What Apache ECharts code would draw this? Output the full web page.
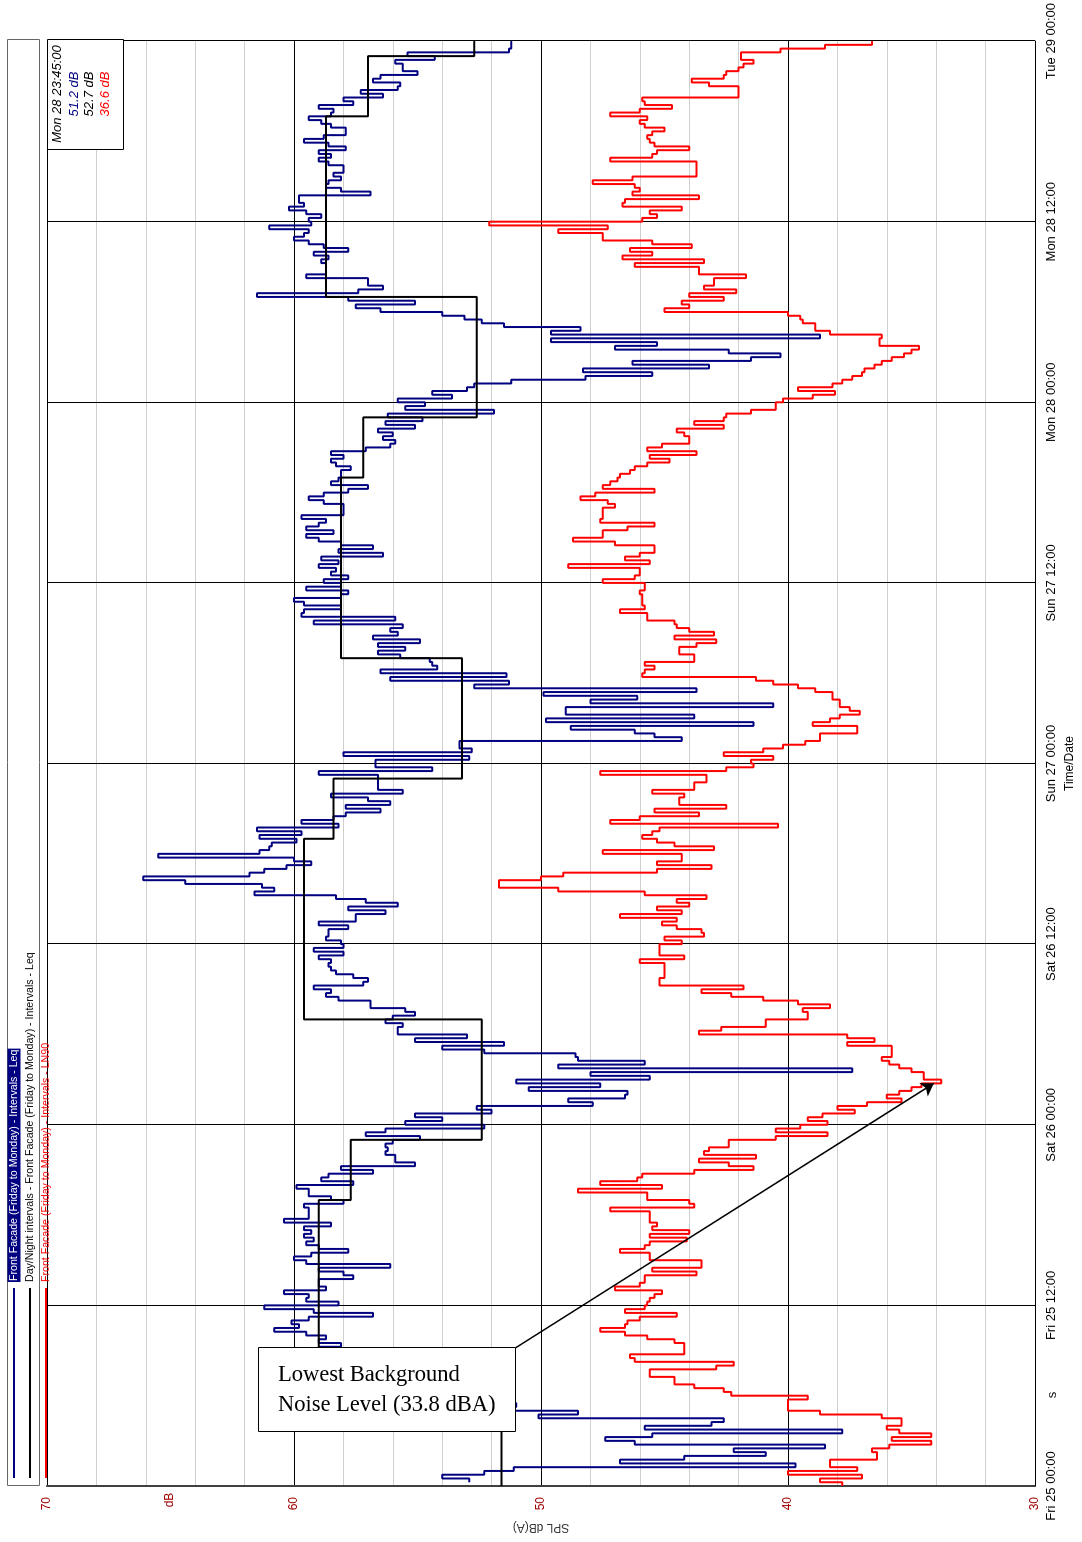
<!DOCTYPE html>
<html><head><meta charset="utf-8">
<script src="https://cdn.jsdelivr.net/npm/echarts@6/dist/echarts.min.js"></script>
<style>
html,body{margin:0;padding:0;width:1082px;height:1542px;overflow:hidden;background:#fff;}
#main{position:absolute;left:0;top:1542px;width:1542px;height:1082px;transform-origin:0 0;transform:rotate(-90deg);}
</style></head><body><div id="main"></div>
<script>
// Time axis tick labels (every 12 hours from Fri 25 00:00)
const timeTickLabels = ['Fri 25 00:00','Fri 25 12:00','Sat 26 00:00','Sat 26 12:00','Sun 27 00:00','Sun 27 12:00','Mon 28 00:00','Mon 28 12:00','Tue 29 00:00'];
const dbTickLabels = [30, 40, 50, 60, 70];
const intervalHours = 0.25; // 15 minute intervals

// Front Facade (Friday to Monday) - Intervals - Leq  (dB, 15-min intervals from Fri 25 00:00)
const leq = [
 null,52.9,54.0,52.3,51.1,39.7,46.8,44.2,40.9,42.2,38.5,46.2,
 47.4,45.5,37.8,45.8,43.1,42.6,50.1,48.5,51.1,51.0,53.8,52.2,
 54.5,53.0,55.2,56.5,58.3,59.2,58.6,60.1,59.4,58.8,59.9,59.3,
 59.0,58.1,59.0,58.7,59.5,60.8,59.8,60.1,59.4,56.8,59.2,61.2,
 58.2,59.5,59.4,60.4,58.7,59.0,59.0,57.6,58.0,59.0,56.1,59.5,
 60.0,59.3,57.8,59.0,59.5,59.2,59.6,59.3,59.6,58.5,60.4,59.4,
 59.4,59.4,59.6,58.0,58.5,59.4,59.4,59.9,57.6,58.9,58.6,56.8,
 58.1,55.1,55.9,55.9,56.3,56.2,56.3,56.0,54.9,57.1,56.3,52.3,
 55.5,54.0,55.1,52.0,52.6,47.9,48.9,46.6,46.5,50.5,47.6,51.0,
 45.6,48.0,37.4,49.3,45.8,48.5,48.6,52.3,54.0,51.5,55.1,53.0,
 55.8,55.8,55.6,56.3,56.0,55.1,55.5,56.9,56.9,58.2,58.7,58.5,
 59.2,57.2,57.0,57.6,58.3,58.5,58.6,58.5,59.0,58.0,59.2,58.0,
 58.1,58.7,58.6,58.6,57.8,59.0,57.5,57.5,56.3,57.8,55.8,57.1,
 58.3,61.6,60.8,61.3,64.4,66.1,61.8,61.2,60.3,59.3,60.0,65.5,
 61.4,61.0,60.9,59.9,61.4,59.7,61.5,58.2,59.7,58.4,57.9,56.5,
 57.9,56.1,57.0,58.5,55.6,56.6,56.6,56.6,56.6,59.0,54.4,56.7,
 56.7,52.9,58.0,52.8,53.3,53.3,44.3,45.4,46.2,48.8,41.4,49.8,
 43.8,49.0,49.0,40.6,48.0,46.1,49.9,43.7,52.7,51.3,56.1,51.4,
 56.5,54.2,54.4,54.5,55.7,56.6,55.5,56.6,54.9,56.8,55.8,56.1,
 55.6,59.2,55.9,59.7,59.6,58.1,59.6,60.0,58.1,57.8,59.5,58.1,
 58.8,57.8,58.5,58.3,59.0,58.2,58.9,56.4,58.2,56.8,58.1,59.0,
 59.5,58.4,59.5,59.0,58.7,59.7,58.0,58.0,58.0,58.8,59.4,58.8,
 57.8,57.0,58.5,58.2,58.1,58.1,57.7,58.3,58.5,58.0,58.5,57.1,
 56.1,55.9,56.4,56.0,56.6,55.1,56.3,54.8,56.2,51.9,55.5,54.7,
 55.8,53.6,54.4,53.0,52.7,51.2,48.2,45.5,48.3,43.2,46.3,41.5,
 40.3,42.4,47.0,45.3,49.6,38.7,49.6,48.4,51.5,52.4,53.1,54.0,
 56.5,57.5,55.1,57.8,61.5,57.4,56.4,57.0,57.0,59.5,58.7,58.7,
 58.7,58.9,58.6,59.2,57.8,58.8,59.4,60.0,59.6,59.4,61.0,59.3,
 59.4,58.9,59.5,60.2,59.6,59.8,59.8,56.9,58.1,58.7,58.6,58.1,
 58.4,58.0,58.0,58.6,59.0,58.5,59.0,57.9,58.6,59.6,58.8,57.9,
 57.9,58.5,58.9,59.4,58.5,58.4,59.0,57.6,58.0,56.4,57.3,55.8,
 55.7,56.8,56.5,55.0,55.6,55.6,55.9,54.3,55.4,51.3,51.2,51.2
];

// Front Facade (Friday to Monday) - Intervals - LN90
const ln90 = [
 37.8,38.7,37.0,40.0,37.2,38.3,38.3,36.4,36.4,36.6,35.9,34.2,
 35.8,34.2,35.5,36.0,35.4,35.4,36.2,38.7,40.0,40.0,40.0,39.2,
 42.3,42.6,43.8,44.6,44.6,45.6,45.6,42.9,42.2,46.2,46.4,44.2,
 44.2,44.2,44.6,45.7,46.6,47.6,46.6,46.5,46.0,44.5,46.6,45.8,
 45.7,45.6,45.4,45.1,47.0,46.0,45.8,45.8,43.7,45.5,43.5,43.5,
 45.6,45.6,46.8,45.8,45.6,44.1,45.6,44.0,45.5,45.3,45.6,45.6,
 45.6,47.2,43.8,44.0,45.7,45.7,48.5,45.1,47.6,46.1,45.9,43.8,
 41.4,42.4,43.6,41.3,43.4,43.2,42.4,42.4,40.5,38.4,40.5,39.5,
 38.4,39.2,38.6,37.3,38.0,36.8,35.4,36.0,35.5,35.0,34.6,33.8,
 34.5,34.5,35.0,35.5,35.9,36.2,35.8,35.8,35.8,37.6,36.5,37.6,
 43.6,42.7,40.9,40.9,39.2,39.2,39.4,38.3,39.6,41.0,42.3,43.5,
 41.8,45.2,45.2,45.0,45.0,45.0,45.0,46.0,44.2,45.2,45.2,45.2,
 44.3,45.0,43.4,43.5,44.5,45.1,44.5,46.8,44.3,45.3,44.0,44.5,
 43.3,45.8,49.3,51.7,51.7,50.0,49.1,45.3,43.1,45.3,44.3,44.3,
 47.5,43.0,44.6,45.3,45.9,45.5,45.2,40.4,47.2,46.0,43.6,45.4,
 42.5,44.4,44.4,44.2,45.5,43.8,43.8,43.3,43.3,47.6,42.5,41.4,
 41.5,40.6,42.6,41.0,40.2,39.3,38.7,38.7,37.2,37.2,39.0,38.3,
 37.9,37.1,37.5,37.9,37.9,38.2,38.2,38.9,39.6,40.6,41.3,45.9,
 45.8,45.4,45.8,43.8,43.8,44.4,44.4,43.7,42.9,44.6,43.0,44.0,
 44.5,44.6,45.7,45.7,46.8,45.8,45.9,45.9,45.9,46.0,45.8,45.8,
 47.5,46.2,46.0,46.0,48.9,45.6,46.6,46.0,45.4,45.4,47.0,48.7,
 47.5,47.5,46.5,45.4,47.6,47.5,47.5,47.5,47.0,47.3,48.4,47.8,
 45.4,47.5,47.2,46.9,46.8,46.4,46.2,45.7,44.8,45.6,43.7,45.7,
 45.1,44.0,44.0,44.2,44.5,42.6,43.8,42.6,42.5,41.5,40.5,40.5,
 40.2,39.0,38.1,39.6,38.2,37.8,37.4,37.0,36.9,36.5,36.2,35.8,
 35.3,35.0,34.7,36.3,36.3,36.2,38.3,38.9,38.9,39.4,39.5,40.0,
 45.0,44.0,44.3,42.6,44.0,42.1,43.4,43.0,43.0,41.7,43.6,43.6,
 46.2,43.4,46.7,45.5,46.4,43.9,45.5,47.5,47.5,49.3,47.3,52.1,
 45.9,45.3,45.6,44.3,46.7,46.6,43.6,46.3,46.0,46.2,47.9,46.3,
 43.7,43.7,43.7,43.7,47.2,45.5,45.3,44.0,45.4,45.6,45.7,45.5,
 45.0,45.8,46.0,45.7,47.2,46.0,44.7,45.8,45.9,42.0,42.0,42.0,
 43.2,43.9,42.6,42.5,42.0,41.8,41.4,41.9,41.9,40.3,38.5,36.6
];

// Day/Night intervals (start hour from Fri 25 00:00) and their Leq
const dayNightStartHours = [0, 7, 19, 23, 31, 43, 47, 55, 67, 71, 79, 91, 95];
const dayNightLeq = [51.6, 59.0, 57.7, 52.4, 59.6, 58.4, 53.2, 58.1, 57.2, 52.6, 58.7, 57.0, 52.7];

const cursorLabel = 'Mon 28 23:45:00';
const cursorValues = ['51.2 dB', '52.7 dB', '36.6 dB'];

const seriesNames = [
  'Front Facade (Friday to Monday) - Intervals - Leq',
  'Day/Night intervals - Front Facade (Friday to Monday) - Intervals - Leq',
  'Front Facade (Friday to Monday) - Intervals - LN90'
];
const seriesColors = ['#000080', '#000000', '#ff0000'];
const endHour = 96;

function intervalData(vals) {
  const d = vals.map((v, i) => [i * intervalHours, v]);
  d.push([vals.length * intervalHours, vals[vals.length - 1]]);
  return d;
}
const dayNightData = dayNightStartHours.map((h, i) => [h, dayNightLeq[i]]);
dayNightData.push([endHour, dayNightLeq[dayNightLeq.length - 1]]);

const FONT = "'Liberation Sans', Arial, sans-serif";
const SERIF = "'Liberation Serif', 'DejaVu Serif', serif";
const chart = echarts.init(document.getElementById('main'), null, {renderer: 'canvas'});

const legendRows = [14, 30, 46];
const graphic = [
  {type: 'rect', z: 50, shape: {x: 56.5, y: 7.5, width: 1446, height: 32}, style: {fill: '#fff', stroke: '#666', lineWidth: 1}}
];
seriesNames.forEach((n, i) => {
  graphic.push({type: 'line', z: 60, shape: {x1: 64, y1: legendRows[i], x2: 254, y2: legendRows[i]}, style: {stroke: seriesColors[i], lineWidth: 2}});
  graphic.push({type: 'text', z: 60, x: 260, y: legendRows[i], style: {
    text: n, font: '10.6px ' + FONT, fill: i === 0 ? '#fff' : seriesColors[i],
    backgroundColor: i === 0 ? '#000080' : null, padding: i === 0 ? [1, 1] : 0,
    textAlign: 'left', textVerticalAlign: 'middle'}});
});
// cursor read-out box
graphic.push({type: 'rect', z: 50, shape: {x: 1392.5, y: 47.5, width: 110, height: 76}, style: {fill: '#fff', stroke: '#000', lineWidth: 1}});
graphic.push({type: 'text', z: 60, x: 1448, y: 57, style: {text: cursorLabel, font: 'italic 13px ' + FONT, fill: '#000', textAlign: 'center', textVerticalAlign: 'middle'}});
cursorValues.forEach((t, i) => {
  graphic.push({type: 'text', z: 60, x: 1448, y: 74 + i * 15.5, style: {text: t, font: 'italic 13px ' + FONT, fill: seriesColors[i], textAlign: 'center', textVerticalAlign: 'middle'}});
});
// unit and stray labels
graphic.push({type: 'text', z: 60, x: 42, y: 170, style: {text: 'dB', font: '12px ' + FONT, fill: '#a00000', textAlign: 'center', textVerticalAlign: 'middle'}});
graphic.push({type: 'text', z: 60, x: 147, y: 1052, style: {text: 's', font: '13px ' + FONT, fill: '#000', textAlign: 'center', textVerticalAlign: 'middle'}});
// annotation box (text reads horizontally in the rotated picture)
graphic.push({type: 'rect', z: 100, shape: {x: 110.5, y: 258.5, width: 84, height: 257}, style: {fill: '#fff', stroke: '#000', lineWidth: 1}});
graphic.push({type: 'text', z: 101, x: 167, y: 278, rotation: -Math.PI / 2, style: {text: 'Lowest Background', font: '22.5px ' + SERIF, fill: '#000', textAlign: 'left', textVerticalAlign: 'middle'}});
graphic.push({type: 'text', z: 101, x: 137, y: 278, rotation: -Math.PI / 2, style: {text: 'Noise Level (33.8 dBA)', font: '22.5px ' + SERIF, fill: '#000', textAlign: 'left', textVerticalAlign: 'middle'}});

const option = {
  animation: false,
  backgroundColor: '#fff',
  grid: {left: 56, right: 40, top: 47, bottom: 47, containLabel: false},
  legend: {show: false},
  xAxis: {
    type: 'value', min: 0, max: endHour, interval: 12,
    name: 'Time/Date', nameLocation: 'middle', nameGap: 29,
    nameTextStyle: {color: '#000', fontSize: 12, fontFamily: FONT},
    axisLine: {show: true, onZero: false, lineStyle: {color: '#000', width: 1}},
    axisTick: {show: false},
    axisLabel: {show: true, color: '#000', fontSize: 13, fontFamily: FONT, margin: 10, showMinLabel: true, showMaxLabel: true,
      formatter: v => timeTickLabels[Math.round(v / 12)] || ''},
    splitLine: {show: true, lineStyle: {color: '#000', width: 1}}
  },
  yAxis: {
    type: 'value', min: 30, max: 70, interval: 2,
    name: 'SPL dB(A)', nameLocation: 'middle', nameGap: 35, nameRotate: 90,
    nameTextStyle: {color: '#333', fontSize: 12, fontFamily: FONT},
    axisLine: {show: true, onZero: false, lineStyle: {color: '#404040', width: 2}},
    axisTick: {show: false},
    axisLabel: {color: '#a00000', fontSize: 12, fontFamily: FONT, margin: 11,
      formatter: v => dbTickLabels.indexOf(v) >= 0 ? String(v) : ''},
    splitLine: {show: true, lineStyle: {color: ['#000', '#cfcfcf', '#cfcfcf', '#cfcfcf', '#cfcfcf'], width: 1}}
  },
  graphic: graphic,
  series: [
    {name: seriesNames[0], type: 'line', step: 'end', data: intervalData(leq), showSymbol: false, silent: true, z: 3,
      lineStyle: {color: seriesColors[0], width: 2}, itemStyle: {color: seriesColors[0]}},
    {name: seriesNames[2], type: 'line', step: 'end', data: intervalData(ln90), showSymbol: false, silent: true, z: 4,
      lineStyle: {color: seriesColors[2], width: 2}, itemStyle: {color: seriesColors[2]},
      markLine: {silent: true, animation: false, symbol: ['none', 'arrow'], symbolSize: 12, label: {show: false},
        lineStyle: {color: '#000', width: 1.5, type: 'solid'},
        emphasis: {disabled: true},
        data: [[{coord: [9.16, 51.05]}, {coord: [26.75, 34.1]}]]}},
    {name: seriesNames[1], type: 'line', step: 'end', data: dayNightData, showSymbol: false, silent: true, z: 5,
      lineStyle: {color: seriesColors[1], width: 2}, itemStyle: {color: seriesColors[1]}}
  ]
};
chart.setOption(option);
</script></body></html>
